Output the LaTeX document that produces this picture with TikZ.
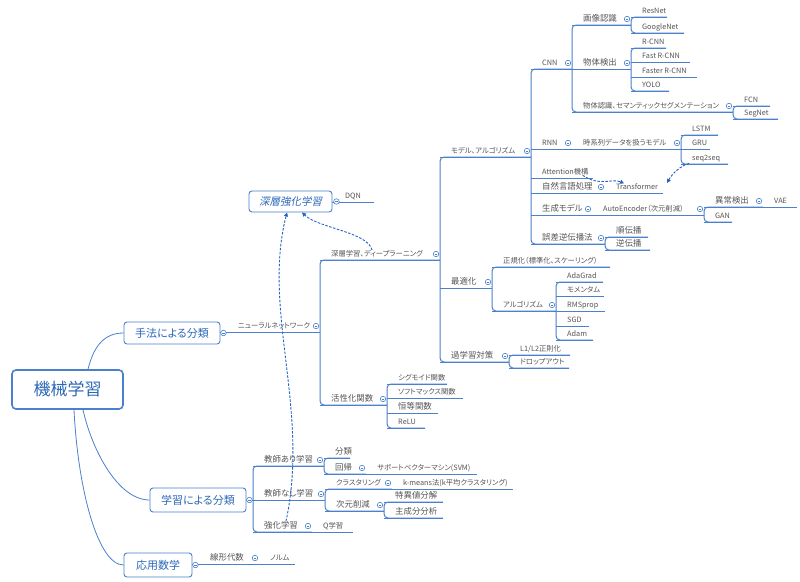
\documentclass[tikz,border=0pt]{standalone}
\usepackage{fontspec}
\setmainfont{Noto Sans CJK JP}[RawFeature=+palt]
\newfontfamily\jpit{Noto Sans CJK JP}[FakeSlant=0.2,RawFeature=+palt]
\usetikzlibrary{arrows.meta,calc}

\definecolor{mapblue}{RGB}{74,128,204}
\definecolor{txt}{RGB}{85,85,85}
\definecolor{boxtxt}{RGB}{44,104,184}
\definecolor{relblue}{RGB}{36,98,196}

\tikzset{
  ln/.style={draw=mapblue, line width=1pt},
  lbl/.style={anchor=base west, inner sep=0pt, text=txt, font=\fontsize{7.3}{8}\selectfont},
  lbig/.style={font=\fontsize{8.4}{9}\selectfont},
  knob/.style={circle, draw=mapblue, fill=white, line width=.6pt, minimum size=5.5pt, inner sep=0pt,
    path picture={\draw[mapblue, line width=.5pt] ([xshift=-1.3pt]path picture bounding box.center)
      -- ([xshift=1.3pt]path picture bounding box.center);}},
  mainbox/.style={draw=mapblue, fill=white, line width=.9pt, rounded corners=3pt, text=boxtxt,
    font=\fontsize{11}{13}\selectfont, inner sep=0pt},
  rootbox/.style={mainbox, line width=1.6pt, rounded corners=4pt, font=\fontsize{17}{20}\selectfont},
  branch/.style={draw=mapblue, line width=.8pt},
  relarr/.style={draw=relblue, line width=.9pt, dash pattern=on 2.5pt off 1.5pt,
    -{Triangle[length=4pt,width=4pt]}}
}

% label sitting on its line: [opts]{name}{x from}{line y}{x to}{text}
\newcommand{\topic}[6][]{%
  \coordinate (#2-a) at (#3,#4);
  \coordinate (#2-b) at (#5,#4);
  \draw[ln] (#2-a) -- (#2-b);
  \node[lbl,#1] (#2) at (#3+11,#4-3.5) {#6};
}
% vertical bracket from first to last child
\newcommand{\bracket}[2]{\draw[ln, rounded corners=4pt] (#1-b) -- (#1-a) -- (#2-a) -- (#2-b);}
\newcommand{\knob}[1]{\node[knob] at ($(#1-b)+(-4,-6)$) {};}

\begin{document}
\begin{tikzpicture}[x=1pt, y=-1pt]
\useasboundingbox (0,0) rectangle (800,581);
\fill[white] (0,0) rectangle (800,581);

% main boxes
\node[rootbox, minimum width=111, minimum height=39] (ml) at (67.5,389.5) {機械学習};
\node[mainbox, minimum width=96, minimum height=22] (hoho) at (172,333) {手法による分類};
\node[mainbox, minimum width=96, minimum height=24] (gaku) at (198,500) {学習による分類};
\node[mainbox, minimum width=68, minimum height=24] (ouyou) at (158,565) {応用数学};
\node[mainbox, minimum width=83, minimum height=21, font=\fontsize{10.5}{12}\jpit] (drl) at (290.5,201.5) {深層強化学習};

\draw[branch] ([xshift=20.5]ml.north) .. controls (94,345) and (105,333) .. (hoho.west);
\draw[branch] ([xshift=15.5]ml.south) .. controls (92,450) and (118,500) .. (gaku.west);
\draw[branch] ([xshift=6.5]ml.south) .. controls (78,490) and (98,565) .. (ouyou.west);

% neural networks
\topic[xshift=7]{nn}{220}{332}{320}{ニューラルネットワーク}
\topic{dl}{320}{260}{440}{深層学習、ディープラーニング}
\topic[lbig]{act}{320}{405}{387}{活性化関数}
\topic{model}{440}{157}{531}{モデル、アルゴリズム}
\topic[lbig]{optim}{440}{288}{492}{最適化}
\topic[lbig]{overfit}{440}{362}{509}{過学習対策}

\topic{cnn}{531}{69}{572}{CNN}
\topic{rnn}{531}{149}{572}{RNN}
\topic{attn}{531}{178}{593}{Attention機構}
\topic[lbig]{nlp}{531}{193}{605}{自然言語処理}
\topic[lbig]{gen}{531}{215}{592}{生成モデル}
\topic[lbig]{bp}{531}{244}{605}{誤差逆伝播法}

\topic[lbig]{img}{572}{25}{631}{画像認識}
\topic[lbig]{det}{572}{69}{631}{物体検出}
\topic{seg}{572}{112}{733}{物体認識、セマンティックセグメンテーション}
\topic{resnet}{631}{17}{667}{ResNet}
\topic{gnet}{631}{33}{684}{GoogleNet}
\topic{rcnn}{631}{48}{666}{R-CNN}
\topic{frcnn}{631}{62}{690}{Fast R-CNN}
\topic{ffrcnn}{631}{77}{697}{Faster R-CNN}
\topic{yolo}{631}{91}{669}{YOLO}
\topic{fcn}{733}{106}{770}{FCN}
\topic{segnet}{733}{119}{778}{SegNet}

\topic{ts}{572}{149}{681}{時系列データを扱うモデル}
\topic{lstm}{681}{135}{718}{LSTM}
\topic{gru}{681}{149}{710}{GRU}
\topic{s2s}{681}{164}{728}{seq2seq}
\topic{tr}{605}{193}{663}{Transformer}
\topic{ae}{592}{215}{704}{AutoEncoder（次元削減）}
\topic[lbig]{anom}{704}{207}{763}{異常検出}
\topic{vae}{763}{207}{797}{VAE}
\topic{gan}{704}{222}{732}{GAN}
\topic[lbig]{fwd}{605}{237}{648}{順伝播}
\topic[lbig]{bwd}{605}{250}{650}{逆伝播}

\topic{norm}{492}{267}{610}{正規化（標準化、スケーリング）}
\topic{algo}{492}{311}{556}{アルゴリズム}
\topic{adagrad}{556}{282}{603}{AdaGrad}
\topic{mom}{556}{296}{604}{モメンタム}
\topic{rms}{556}{311}{605}{RMSprop}
\topic{sgd}{556}{326}{589}{SGD}
\topic{adam}{556}{340}{593}{Adam}
\topic{l1l2}{509}{355}{570}{L1/L2正則化}
\topic{drop}{509}{368}{569}{ドロップアウト}

\topic{sigm}{387}{384}{447}{シグモイド関数}
\topic{soft}{387}{398}{463}{ソフトマックス関数}
\topic[lbig]{ident}{387}{413}{438}{恒等関数}
\topic{relu}{387}{428}{425}{ReLU}

% learning styles
\topic[lbig]{sup}{253}{466}{324}{教師あり学習}
\topic[lbig]{unsup}{253}{500}{325}{教師なし学習}
\topic[lbig]{rl}{253}{532}{312}{強化学習}
\topic[lbig]{cls}{324}{458}{350}{分類}
\topic[lbig]{reg}{324}{474}{366}{回帰}
\topic{svm}{366}{474}{477}{サポートベクターマシン(SVM)}
\topic{clu}{325}{489}{392}{クラスタリング}
\topic{km}{392}{489}{513}{k-means法(k平均クラスタリング)}
\topic[lbig]{dim}{325}{511}{384}{次元削減}
\topic[lbig]{svd}{384}{502}{443}{特異値分解}
\topic[lbig]{pca}{384}{518}{443}{主成分分析}
\topic{q}{312}{532}{353}{Q学習}

% math, deep RL
\topic[lbig,xshift=7]{senkei}{192}{564}{259}{線形代数}
\topic{normm}{259}{564}{295}{ノルム}
\topic[xshift=2]{dqn}{332}{202}{374}{DQN}

\draw[ln] (gaku.east) -- (unsup-a);

\bracket{dl}{act}
\bracket{model}{overfit}
\bracket{cnn}{bp}
\bracket{img}{seg}
\bracket{resnet}{gnet}
\bracket{rcnn}{yolo}
\bracket{fcn}{segnet}
\bracket{lstm}{s2s}
\bracket{anom}{gan}
\bracket{fwd}{bwd}
\bracket{norm}{algo}
\bracket{adagrad}{adam}
\bracket{l1l2}{drop}
\bracket{sigm}{relu}
\bracket{sup}{rl}
\bracket{cls}{reg}
\bracket{clu}{dim}
\bracket{svd}{pca}

% relations
\draw[relarr] ([xshift=-5]dl.north) .. controls (368,232) and (318,228) .. ([xshift=11.5]drl.south);
\draw[relarr] ([xshift=5]rl.north) .. controls (310,410) and (262,310) .. ([xshift=-3.5]drl.south);
\draw[relarr] ([xshift=-3,yshift=-1]s2s.south west) .. controls (680,166) and (672,174) .. ($(tr-b)+(4,-10)$);
\draw[relarr] ([xshift=-6]attn.south east) .. controls (600,187) and (612,178) .. ([xshift=8]tr.north west);

% collapse knobs
\foreach \k in {nn,dl,model,optim,overfit,act,cnn,rnn,ts,nlp,gen,ae,anom,bp,img,det,seg,algo,
  sup,reg,unsup,clu,dim,rl,senkei}
  {\knob{\k}}
\node[knob] at ([xshift=3]hoho.east) {};
\node[knob] at ([xshift=3]gaku.east) {};
\node[knob] at ([xshift=3]ouyou.east) {};
\node[knob] at ([xshift=4]drl.east) {};
\end{tikzpicture}
\end{document}
